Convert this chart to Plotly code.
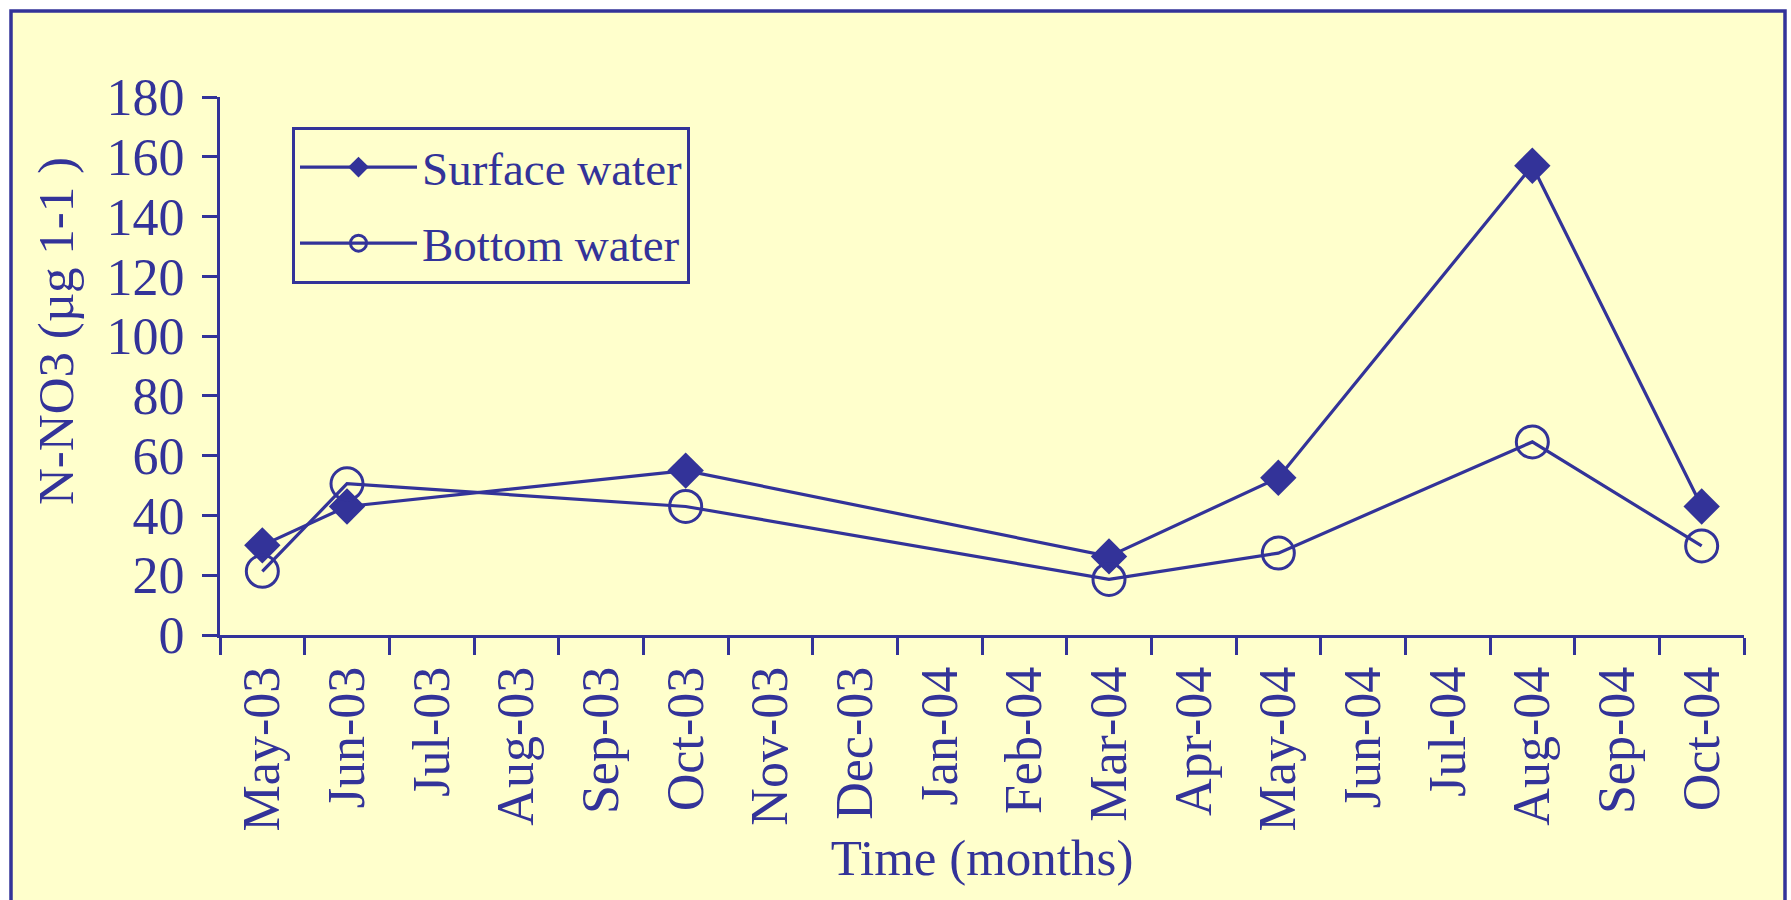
import plotly.graph_objects as go

months = ["May-03", "Jun-03", "Jul-03", "Aug-03", "Sep-03", "Oct-03", "Nov-03",
          "Dec-03", "Jan-04", "Feb-04", "Mar-04", "Apr-04", "May-04", "Jun-04",
          "Jul-04", "Aug-04", "Sep-04", "Oct-04"]
surface_water = [30, 43, None, None, None, 55, None, None, None, None, 26.3,
                 None, 52.6, None, None, 157, None, 43]
bottom_water = [21.3, 50.6, None, None, None, 43, None, None, None, None, 18.6,
                None, 27.4, None, None, 64.6, None, 29.8]
y_ticks = [0, 20, 40, 60, 80, 100, 120, 140, 160, 180]

BLUE = "#333399"
YELLOW = "#FFFFCC"
FONT = "Liberation Serif, Times New Roman, serif"

W, H = 1791, 900
ML, MR, MT, MB = 220, 47, 97, 265
PW, PH = W - ML - MR, H - MT - MB


def px_x(p):
    return (p - ML) / PW


def px_y(p):
    return (H - MB - p) / PH


fig = go.Figure()
fig.add_trace(go.Scatter(
    x=months, y=surface_water, name="Surface water", mode="lines+markers",
    connectgaps=True, legendgroup="a",
    line=dict(color=BLUE, width=3.2),
    marker=dict(symbol="diamond", size=28, color=BLUE)))
fig.add_trace(go.Scatter(
    x=months, y=bottom_water, name="Bottom water", mode="lines+markers",
    connectgaps=True, legendgroup="b",
    line=dict(color=BLUE, width=3.2),
    marker=dict(symbol="circle-open", size=32, color=BLUE,
                line=dict(width=3, color=BLUE))))

# outer frame of the chart area
fig.add_shape(type="rect", xref="paper", yref="paper",
              x0=px_x(11), x1=px_x(1785), y0=px_y(960), y1=px_y(11),
              fillcolor=YELLOW, line=dict(color=BLUE, width=3.5), layer="below")

fig.add_annotation(text="N-NO3 (µg 1-1 )", textangle=-90, showarrow=False,
                   xref="paper", yref="paper", x=px_x(56), y=px_y(331),
                   xanchor="center", yanchor="middle",
                   font=dict(family=FONT, color=BLUE, size=51))

fig.update_layout(
    width=W, height=H,
    margin=dict(l=ML, r=MR, t=MT, b=MB),
    paper_bgcolor="white", plot_bgcolor="rgba(0,0,0,0)",
    font=dict(family=FONT, color=BLUE, size=47),
    showlegend=True,
    legend=dict(x=px_x(292), y=px_y(127), xanchor="left", yanchor="top",
                xref="paper", yref="paper",
                bgcolor=YELLOW, bordercolor=BLUE, borderwidth=3,
                font=dict(family=FONT, color=BLUE, size=47),
                itemwidth=117, tracegroupgap=12, traceorder="grouped",
                itemsizing="trace"),
    xaxis=dict(
        type="category", categoryorder="array", categoryarray=months,
        range=[-0.5, 17.5], tickson="boundaries", ticks="outside", ticklen=17,
        tickwidth=3, tickcolor=BLUE, tickangle=-90, showline=True,
        linecolor=BLUE, linewidth=3, showgrid=False, zeroline=False,
        tickfont=dict(family=FONT, color=BLUE, size=52),
        ticklabelstandoff=8,
        title=dict(text="Time (months)", standoff=9,
                   font=dict(family=FONT, color=BLUE, size=51))),
    yaxis=dict(
        range=[0, 180], tickvals=y_ticks, ticks="outside", ticklen=15,
        tickwidth=3, tickcolor=BLUE, showline=True, linecolor=BLUE,
        linewidth=3, showgrid=False, zeroline=False,
        tickfont=dict(family=FONT, color=BLUE, size=52),
        ticklabelstandoff=7),
)

fig.write_html("out.html")
